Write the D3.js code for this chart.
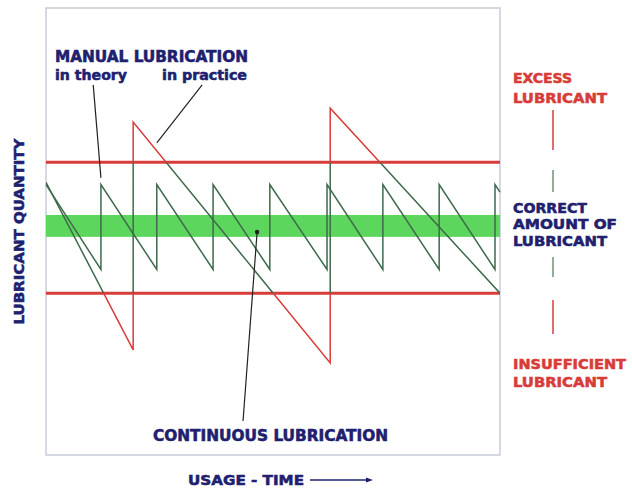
<!DOCTYPE html>
<html>
<head>
<meta charset="utf-8">
<script src="https://cdn.jsdelivr.net/npm/d3@7"></script>
<style>
  html, body { margin: 0; padding: 0; background: #fff; }
  svg { display: block; }
  text { font-family: "DejaVu Sans Condensed", "DejaVu Sans", sans-serif; font-weight: bold; }
</style>
</head>
<body>
<svg id="chart" width="632" height="491"></svg>
<script>
// Lubricant quantity (0-100) over usage time (0-100)
const limits = [36.2, 65.5]          // insufficient / excess thresholds
const correctBand = [48.8, 53.7]     // correct amount of lubricant

// manual lubrication, in theory (regular top-ups)
const theoryTime = [0, 12.1, 12.1, 24.4, 24.4, 36.8, 36.8, 49.3, 49.3, 61.9, 61.9, 74.2, 74.2, 86.6, 86.6, 98.9, 98.9, 100]
const theoryQty  = [60.5, 41.5, 60.5, 41.5, 60.5, 41.5, 60.5, 41.5, 60.5, 41.5, 60.5, 41.5, 60.5, 41.5, 60.5, 41.5, 60.5, 58.8]

// manual lubrication, in practice (irregular, over/under)
const practiceTime = [0, 19.2, 19.2, 62.6, 62.6, 100]
const practiceQty  = [61.0, 23.5, 74.5, 20.6, 77.6, 36.2]

const rightLabels = [["EXCESS", "LUBRICANT"], ["CORRECT", "AMOUNT OF", "LUBRICANT"], ["INSUFFICIENT", "LUBRICANT"]]

const navy = "#20206e"
const red = "#d83c38"
const darkGreen = "#3f6a4c"

const svg = d3.select("#chart")
const margin = { left: 46, top: 8, right: 132, bottom: 36 }
const W = 632, H = 491

const x = d3.scaleLinear().domain([0, 100]).range([margin.left, W - margin.right])
const y = d3.scaleLinear().domain([0, 100]).range([H - margin.bottom, margin.top])

const defs = svg.append("defs")
// clip for the part of the "practice" line that stays between limits
defs.append("clipPath").attr("id", "inside")
  .append("rect")
  .attr("x", x(0)).attr("width", x(100) - x(0))
  .attr("y", y(limits[1])).attr("height", y(limits[0]) - y(limits[1]))
const outside = defs.append("clipPath").attr("id", "outside")
outside.append("rect")
  .attr("x", x(0) - 2).attr("width", x(100) - x(0) + 4)
  .attr("y", y(100)).attr("height", y(limits[1]) - y(100))
outside.append("rect")
  .attr("x", x(0) - 2).attr("width", x(100) - x(0) + 4)
  .attr("y", y(limits[0])).attr("height", y(0) - y(limits[0]))

// frame
svg.append("rect")
  .attr("x", x(0)).attr("y", y(100))
  .attr("width", x(100) - x(0)).attr("height", y(0) - y(100))
  .attr("fill", "none").attr("stroke", "#c9cbd9").attr("stroke-width", 1.5)

// correct band
svg.append("rect")
  .attr("x", x(0)).attr("width", x(100) - x(0))
  .attr("y", y(correctBand[1])).attr("height", y(correctBand[0]) - y(correctBand[1]))
  .attr("fill", "#5cd65c")

// limit lines
svg.selectAll("line.limit")
  .data(limits)
  .join("line")
  .attr("class", "limit")
  .attr("x1", x(0)).attr("x2", x(100))
  .attr("y1", d => y(d)).attr("y2", d => y(d))
  .attr("stroke", red).attr("stroke-width", 3)

const line = d3.line().x(d => x(d[0])).y(d => y(d[1]))

// theory sawtooth
svg.append("path")
  .datum(d3.zip(theoryTime, theoryQty))
  .attr("d", line)
  .attr("fill", "none").attr("stroke", darkGreen).attr("stroke-width", 1.5)

// practice sawtooth: dark inside limits, red outside
const practice = d3.zip(practiceTime, practiceQty)
svg.append("path")
  .datum(practice).attr("d", line)
  .attr("clip-path", "url(#inside)")
  .attr("fill", "none").attr("stroke", darkGreen).attr("stroke-width", 1.5)
svg.append("path")
  .datum(practice).attr("d", line)
  .attr("clip-path", "url(#outside)")
  .attr("fill", "none").attr("stroke", red).attr("stroke-width", 1.5)

// pointers
const pointers = [
  [[10.4, 82.8], [12.1, 62.0]],
  [[34.4, 82.8], [24.4, 69.8]],
  [[43.4, 7.6], [46.5, 49.9]]
]
svg.selectAll("line.pointer")
  .data(pointers)
  .join("line")
  .attr("class", "pointer")
  .attr("x1", d => x(d[0][0])).attr("y1", d => y(d[0][1]))
  .attr("x2", d => x(d[1][0])).attr("y2", d => y(d[1][1]))
  .attr("stroke", "#222").attr("stroke-width", 1.2)
svg.append("circle")
  .attr("cx", x(46.5)).attr("cy", y(49.9)).attr("r", 2.2).attr("fill", "#222")

// text helper
function label(t, px, py, len, color, size) {
  return svg.append("text")
    .attr("x", px).attr("y", py)
    .attr("fill", color).attr("stroke", color).attr("stroke-width", 0.5)
    .attr("font-size", size || 14)
    .attr("textLength", len).attr("lengthAdjust", "spacingAndGlyphs")
    .text(t)
}

label("MANUAL LUBRICATION", 55, 62, 193, navy, 15)
label("in theory", 55, 80, 72, navy, 14)
label("in practice", 162, 80, 85, navy, 14)
label("CONTINUOUS LUBRICATION", 153, 441, 235, navy, 15)
label("USAGE - TIME", 188, 485, 116, navy, 14)

// time arrow
svg.append("line")
  .attr("x1", 310).attr("x2", 368).attr("y1", 480).attr("y2", 480)
  .attr("stroke", navy).attr("stroke-width", 1.5)
svg.append("path")
  .attr("d", "M366,477.5L373,480L366,482.5Z").attr("fill", navy)

// y axis title
svg.append("text")
  .attr("transform", `translate(24,${(y(0) + y(100)) / 2}) rotate(-90)`)
  .attr("text-anchor", "middle")
  .attr("fill", navy).attr("stroke", navy).attr("stroke-width", 0.5)
  .attr("font-size", 14)
  .attr("textLength", 186).attr("lengthAdjust", "spacingAndGlyphs")
  .text("LUBRICANT QUANTITY")

// right-hand legend
const rx = 513
const rightLayout = [
  { baselines: [83, 103], widths: [59, 94], color: red },
  { baselines: [213, 229, 246], widths: [74, 104, 94], color: navy },
  { baselines: [369, 387], widths: [113, 94], color: red }
]
rightLabels.forEach((lines, i) => {
  const lay = rightLayout[i]
  lines.forEach((t, j) => label(t, rx, lay.baselines[j], lay.widths[j], lay.color, 14))
})

// dashed connector
const connector = [
  [110, 150, red], [170, 192, "#6b957a"], [257, 277, "#6b957a"], [300, 334, red]
]
svg.selectAll("line.conn")
  .data(connector)
  .join("line")
  .attr("class", "conn")
  .attr("x1", 553).attr("x2", 553)
  .attr("y1", d => d[0]).attr("y2", d => d[1])
  .attr("stroke", d => d[2]).attr("stroke-width", 1.5)
</script>
</body>
</html>
